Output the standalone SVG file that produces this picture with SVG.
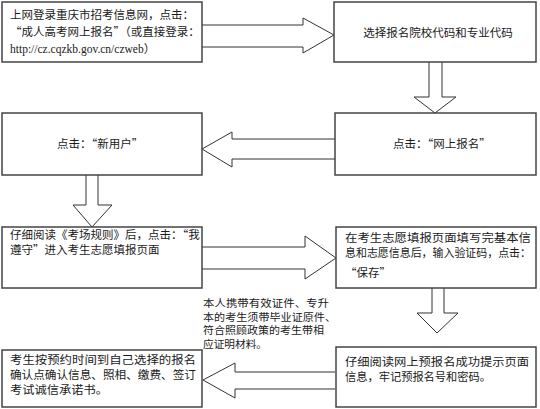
<svg xmlns="http://www.w3.org/2000/svg" width="540" height="409" viewBox="0 0 540 409">
<style>
.box{fill:#fff;stroke:#444;stroke-width:1.5}
.arr{fill:#fff;stroke:#333;stroke-width:1}
.t{font-family:"Noto Sans CJK SC","Liberation Sans",sans-serif;font-size:11.5px;fill:#1a1a1a}
.n{font-size:10px}
.s{font-family:"Liberation Serif","Noto Sans CJK SC",serif;font-size:11.5px;fill:#1a1a1a}
</style>
<rect width="540" height="409" fill="#fff"/>
<g id="connectors">
<path class="arr" d="M202,25 H303 V18 L334,35 L303,53 V47 H202"/>
<path class="arr" d="M429,62 V97 H414 L435,113 L456,97 H442 V62"/>
<path class="arr" d="M335,139 H232 V132 L202,149 L232,167 V159 H335"/>
<path class="arr" d="M86,175 V205 H73 L92,227 L112,205 H98 V175"/>
<path class="arr" d="M202,247 H305 V236 L336,258 L305,279 V269 H202"/>
<path class="arr" d="M432,288 V313 H417 L437,333 L458,313 H444 V288"/>
<path class="arr" d="M335,372 H235 V363 L203,380 L235,398 V389 H335"/>
</g>
<g id="n1">
<rect class="box" x="2" y="2" width="200" height="60"/>
<text class="t" x="10" y="19">上网登录重庆市招考信息网，点击：</text>
<text class="t" x="10" y="36">“成人高考网上报名”（或直接登录：</text>
<text class="s" x="10" y="53">http://cz.cqzkb.gov.cn/czweb<tspan class="t">）</tspan></text>
</g>
<g id="n2">
<rect class="box" x="334" y="2" width="202" height="60"/>
<text class="t" x="438" y="37" text-anchor="middle">选择报名院校代码和专业代码</text>
</g>
<g id="n3">
<rect class="box" x="335" y="113" width="201" height="62"/>
<text class="t" x="393" y="148">点击：“网上报名”</text>
</g>
<g id="n4">
<rect class="box" x="2" y="113" width="200" height="62"/>
<text class="t" x="57" y="148">点击：“新用户”</text>
</g>
<g id="n5">
<rect class="box" x="2" y="227" width="200" height="61"/>
<text class="t" x="10" y="239">仔细阅读《考场规则》后，点击：“我</text>
<text class="t" x="10" y="254">遵守”进入考生志愿填报页面</text>
</g>
<g id="n6">
<rect class="box" x="336" y="227" width="200" height="61"/>
<text class="t" x="345" y="242" textLength="186" lengthAdjust="spacingAndGlyphs">在考生志愿填报页面填写完基本信</text>
<text class="t" x="345" y="257" textLength="186" lengthAdjust="spacingAndGlyphs">息和志愿信息后，输入验证码，点击：</text>
<text class="t" x="345" y="277">“保存”</text>
</g>
<g id="n7">
<rect class="box" x="336" y="347" width="200" height="60"/>
<text class="t" x="345" y="366" textLength="184" lengthAdjust="spacingAndGlyphs">仔细阅读网上预报名成功提示页面</text>
<text class="t" x="345" y="381" textLength="146" lengthAdjust="spacingAndGlyphs">信息，牢记预报名号和密码。</text>
</g>
<g id="n8">
<rect class="box" x="2" y="350" width="200" height="57"/>
<text class="t" x="10" y="364" textLength="186" lengthAdjust="spacingAndGlyphs">考生按预约时间到自己选择的报名</text>
<text class="t" x="10" y="379" textLength="186" lengthAdjust="spacingAndGlyphs">确认点确认信息、照相、缴费、签订</text>
<text class="t" x="10" y="394" textLength="98" lengthAdjust="spacingAndGlyphs">考试诚信承诺书。</text>
</g>
<g id="note">
<text class="t n" x="203" y="307" textLength="126" lengthAdjust="spacingAndGlyphs">本人携带有效证件、专升</text>
<text class="t n" x="203" y="320.5" textLength="133" lengthAdjust="spacingAndGlyphs">本的考生须带毕业证原件、</text>
<text class="t n" x="203" y="334" textLength="121" lengthAdjust="spacingAndGlyphs">符合照顾政策的考生带相</text>
<text class="t n" x="203" y="347.5" textLength="64" lengthAdjust="spacingAndGlyphs">应证明材料。</text>
</g>
</svg>
